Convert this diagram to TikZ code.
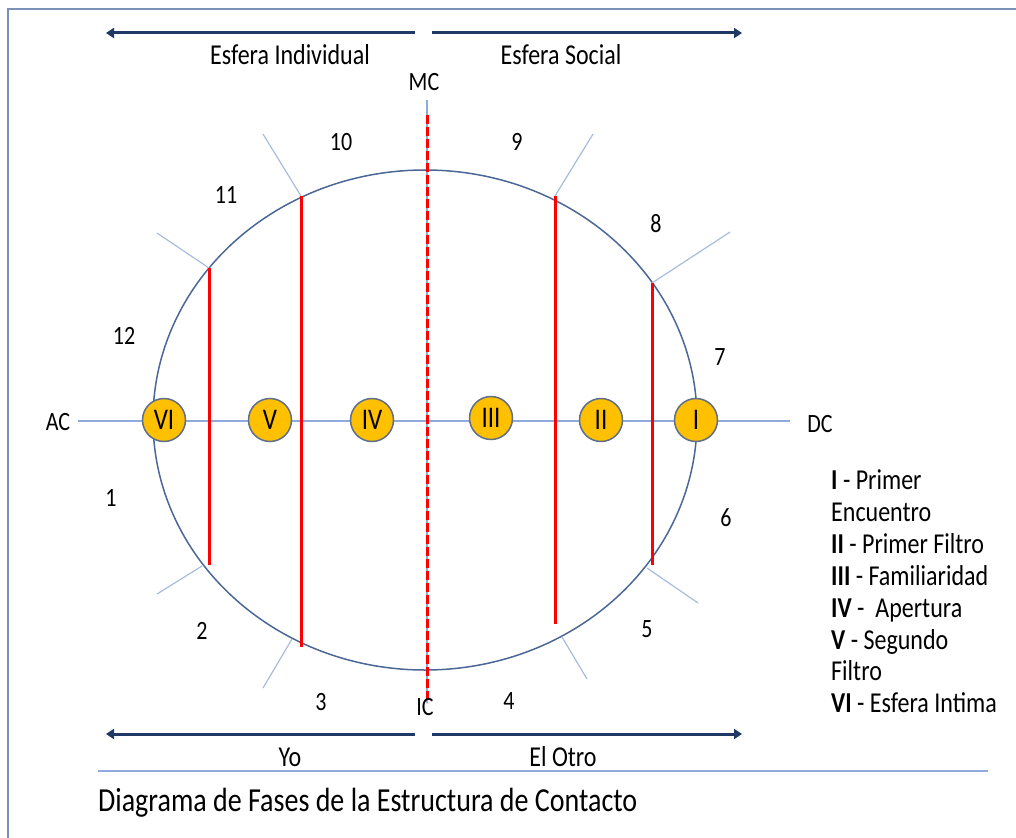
\documentclass[tikz,border=0pt]{standalone}
\usepackage{fontspec}
\usepackage{graphicx}
\setmainfont{Carlito}
\usetikzlibrary{arrows.meta}
\definecolor{navy}{HTML}{1F3864}
\definecolor{ellc}{HTML}{4A6796}
\definecolor{axisc}{HTML}{8FAADC}
\definecolor{tickc}{HTML}{A8BCDC}
\definecolor{framec}{HTML}{7A92B6}
\definecolor{gold}{HTML}{FFC000}
\definecolor{ringc}{HTML}{5E6F8A}
\newcommand{\tl}[1]{\scalebox{1}[1.2]{#1}}
\tikzset{
  lbl/.style={inner sep=0pt, font=\fontsize{22}{26}\selectfont},
  bigl/.style={inner sep=0pt, font=\fontsize{24}{28}\selectfont},
  leg/.style={inner sep=0pt, anchor=base west, font=\fontsize{24}{28}\selectfont},
  phase/.style={circle, draw=ringc, line width=1.5pt, fill=gold, minimum size=43pt, inner sep=0pt, font=\fontsize{25}{28}\selectfont},
  redline/.style={draw=red, line width=3pt},
  tick/.style={draw=tickc, line width=1.2pt},
  bigarrow/.style={draw=navy, line width=3pt, -{Triangle[length=8pt,width=10pt]}},
}
\begin{document}
\begin{tikzpicture}[x=1pt,y=-1pt]
\useasboundingbox (0,0) rectangle (1016,837);
% frame
\draw[framec, line width=2pt] (8,838) -- (8,9) -- (1017,9);
% top arrows
\coordinate (tl0) at (415,33); \coordinate (tl1) at (106,33);
\coordinate (tr0) at (432,33); \coordinate (tr1) at (742,33);
\draw[bigarrow] (tl0) -- (tl1);
\draw[bigarrow] (tr0) -- (tr1);
\node[bigl] (esi) at (290,55) {\tl{Esfera Individual}};
\node[bigl] (ess) at (561,55) {\tl{Esfera Social}};
% bottom arrows
\coordinate (bl0) at (415,734); \coordinate (bl1) at (106,734);
\coordinate (br0) at (432,734); \coordinate (br1) at (742,734);
\draw[bigarrow] (bl0) -- (bl1);
\draw[bigarrow] (br0) -- (br1);
\node[bigl] (yo) at (290,757) {\tl{Yo}};
\node[bigl] (otro) at (563,757) {\tl{El Otro}};
% separator and title
\draw[axisc, line width=1.2pt] (98,771) -- (988,771);
\node[inner sep=0pt, anchor=base west, font=\fontsize{28}{32}\selectfont] (title) at (98,811) {\tl{Diagrama de Fases de la Estructura de Contacto}};
% axes
\draw[axisc, line width=1.2pt] (78,421) -- (790,421);
\draw[axisc, line width=1.2pt] (427,100) -- (427,703);
% ellipse
\draw[ellc, line width=1.5pt] (425,420) ellipse [x radius=272pt, y radius=250pt];
% ticks
\draw[tick] (209,268) -- (157,233);
\draw[tick] (301,196) -- (263,134);
\draw[tick] (555,196) -- (593,134);
\draw[tick] (652,283) -- (730,232);
\draw[tick] (647,568) -- (698,603);
\draw[tick] (562,637) -- (587,679);
\draw[tick] (202,566) -- (157,594);
\draw[tick] (292,639) -- (263,688);
% red lines
\draw[redline] (209,268) -- (209,565);
\draw[redline] (301,196) -- (301,647);
\draw[redline] (555,196) -- (555,624);
\draw[redline] (652,283) -- (652,565);
\draw[red, line width=3pt, dash pattern=on 9pt off 3pt] (427,115) -- (427,703);
% phase circles
\node[phase] (p6) at (164,420) {\tl{VI}};
\node[phase] (p5) at (270,420) {\tl{V}};
\node[phase] (p4) at (372,420) {\tl{IV}};
\node[phase] (p3) at (491,418) {\tl{III}};
\node[phase] (p2) at (601,420) {\tl{II}};
\node[phase] (p1) at (696,420) {\tl{I}};
% axis labels
\node[lbl] (ac) at (58,422) {\tl{AC}};
\node[lbl] (dc) at (820,424) {\tl{DC}};
\node[lbl] (mc) at (424,82) {\tl{MC}};
\node[lbl] (ic) at (425,707) {\tl{IC}};
% numbers
\node[lbl] (n10) at (341,142) {\tl{10}};
\node[lbl] (n9) at (517,142) {\tl{9}};
\node[lbl] (n11) at (226,195) {\tl{11}};
\node[lbl] (n8) at (656,224) {\tl{8}};
\node[lbl] (n12) at (124,336) {\tl{12}};
\node[lbl] (n7) at (720,357) {\tl{7}};
\node[lbl] (n1) at (111,498) {\tl{1}};
\node[lbl] (n6) at (726,518) {\tl{6}};
\node[lbl] (n2) at (202,631) {\tl{2}};
\node[lbl] (n5) at (647,629) {\tl{5}};
\node[lbl] (n3) at (321,702) {\tl{3}};
\node[lbl] (n4) at (509,701) {\tl{4}};
% legend
\node[leg] (l1) at (831,489) {\tl{\textbf{I} - Primer}};
\node[leg] (l2) at (831,521) {\tl{Encuentro}};
\node[leg] (l3) at (831,553) {\tl{\textbf{II} - Primer Filtro}};
\node[leg] (l4) at (831,585) {\tl{\textbf{III} - Familiaridad}};
\node[leg] (l5) at (831,617) {\tl{\textbf{IV} -~~Apertura}};
\node[leg] (l6) at (831,649) {\tl{\textbf{V} - Segundo}};
\node[leg] (l7) at (831,680) {\tl{Filtro}};
\node[leg] (l8) at (831,712) {\tl{\textbf{VI} - Esfera Intima}};
\end{tikzpicture}
\end{document}
